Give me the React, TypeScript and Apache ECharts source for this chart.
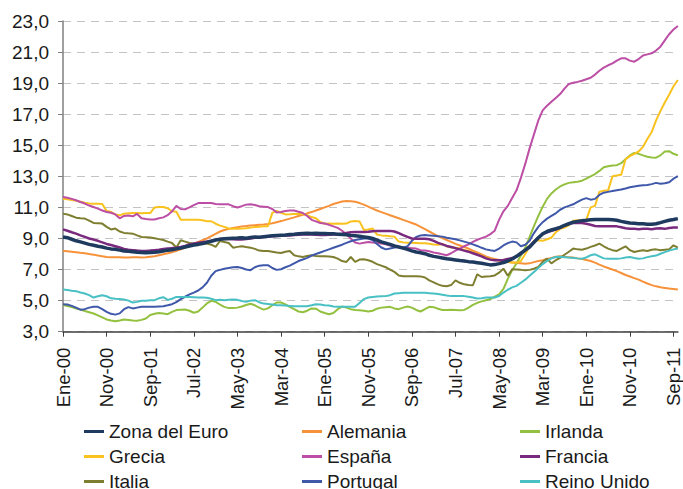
import React, { useEffect, useRef } from "react";
import * as echarts from "echarts";

const monthNames = ["Ene", "Feb", "Mar", "Abr", "May", "Jun", "Jul", "Ago", "Sep", "Oct", "Nov", "Dic"];
const categories: string[] = [];
for (let y = 0; y < 12; y++) {
  for (let m = 0; m < 12; m++) {
    if (categories.length < 142) categories.push(`${monthNames[m]}-${String(y).padStart(2, "0")}`);
  }
}

const yTicks = [3, 5, 7, 9, 11, 13, 15, 17, 19, 21, 23];

const zonaEuro = [
  9.10, 9.05, 8.95, 8.85, 8.78, 8.70, 8.62, 8.56, 8.50, 8.45,
  8.38, 8.33, 8.30, 8.25, 8.20, 8.18, 8.15, 8.12, 8.10, 8.08,
  8.10, 8.12, 8.15, 8.20, 8.25, 8.28, 8.33, 8.38, 8.45, 8.52,
  8.58, 8.62, 8.68, 8.75, 8.82, 8.90, 8.95, 8.98, 9.00, 9.02,
  9.03, 9.05, 9.02, 9.06, 9.10, 9.08, 9.12, 9.15, 9.18, 9.20,
  9.21, 9.22, 9.25, 9.27, 9.30, 9.32, 9.33, 9.32, 9.33, 9.32,
  9.32, 9.31, 9.30, 9.28, 9.26, 9.24, 9.20, 9.17, 9.14, 9.10,
  9.06, 9.00, 8.90, 8.78, 8.70, 8.62, 8.52, 8.45, 8.38, 8.30,
  8.20, 8.13, 8.08, 8.02, 7.92, 7.85, 7.80, 7.75, 7.70, 7.66,
  7.62, 7.58, 7.55, 7.51, 7.48, 7.44, 7.40, 7.35, 7.30, 7.32,
  7.38, 7.45, 7.55, 7.68, 7.85, 8.05, 8.25, 8.45, 8.75, 9.05,
  9.30, 9.45, 9.55, 9.63, 9.72, 9.85, 9.95, 10.05, 10.10, 10.15,
  10.17, 10.20, 10.22, 10.22, 10.23, 10.22, 10.20, 10.17, 10.10, 10.05,
  10.00, 9.98, 9.95, 9.95, 9.92, 9.92, 9.95, 10.02, 10.10, 10.17,
  10.22, 10.28,
];

const alemania = [
  8.20, 8.18, 8.15, 8.12, 8.08, 8.05, 8.00, 7.96, 7.90, 7.85,
  7.81, 7.80, 7.79, 7.79, 7.78, 7.78, 7.79, 7.79, 7.78, 7.80,
  7.83, 7.86, 7.92, 7.98, 8.05, 8.12, 8.20, 8.30, 8.41, 8.52,
  8.65, 8.78, 8.89, 9.00, 9.15, 9.30, 9.45, 9.55, 9.62, 9.68,
  9.72, 9.78, 9.80, 9.83, 9.86, 9.88, 9.90, 9.93, 9.98, 10.05,
  10.12, 10.20, 10.28, 10.36, 10.45, 10.52, 10.62, 10.70, 10.80, 10.90,
  11.00, 11.10, 11.22, 11.30, 11.38, 11.42, 11.40, 11.36, 11.28, 11.18,
  11.05, 10.92, 10.80, 10.70, 10.60, 10.50, 10.40, 10.30, 10.20, 10.10,
  10.00, 9.90, 9.75, 9.60, 9.45, 9.30, 9.15, 9.02, 8.90, 8.78,
  8.65, 8.55, 8.45, 8.35, 8.22, 8.10, 7.98, 7.85, 7.75, 7.68,
  7.62, 7.55, 7.50, 7.45, 7.42, 7.40, 7.38, 7.40, 7.48, 7.55,
  7.60, 7.68, 7.75, 7.82, 7.85, 7.82, 7.80, 7.78, 7.72, 7.68,
  7.62, 7.55, 7.45, 7.32, 7.20, 7.10, 7.00, 6.90, 6.78, 6.65,
  6.55, 6.45, 6.35, 6.22, 6.10, 6.00, 5.92, 5.86, 5.82, 5.78,
  5.75, 5.71,
];

const irlanda = [
  4.71, 4.65, 4.58, 4.49, 4.42, 4.33, 4.25, 4.17, 4.05, 3.92,
  3.79, 3.72, 3.68, 3.72, 3.78, 3.76, 3.72, 3.70, 3.76, 3.85,
  4.08, 4.15, 4.21, 4.17, 4.13, 4.28, 4.39, 4.42, 4.43, 4.35,
  4.22, 4.30, 4.55, 4.82, 4.99, 4.92, 4.75, 4.60, 4.52, 4.52,
  4.55, 4.62, 4.72, 4.80, 4.70, 4.55, 4.42, 4.50, 4.70, 4.88,
  4.88, 4.76, 4.60, 4.45, 4.30, 4.25, 4.35, 4.50, 4.48, 4.30,
  4.20, 4.12, 4.20, 4.45, 4.62, 4.55, 4.45, 4.40, 4.38, 4.35,
  4.30, 4.35, 4.48, 4.55, 4.58, 4.60, 4.50, 4.45, 4.55, 4.62,
  4.55, 4.40, 4.30, 4.45, 4.60, 4.58, 4.48, 4.40, 4.40, 4.42,
  4.40, 4.38, 4.40, 4.55, 4.72, 4.86, 4.95, 5.03, 5.10, 5.25,
  5.40, 5.75, 6.40, 6.95, 7.40, 7.90, 8.40, 9.10, 9.80, 10.45,
  11.05, 11.55, 11.90, 12.15, 12.35, 12.48, 12.58, 12.62, 12.65, 12.72,
  12.85, 13.00, 13.15, 13.35, 13.58, 13.65, 13.70, 13.72, 13.85, 14.10,
  14.35, 14.51, 14.45, 14.35, 14.26, 14.22, 14.20, 14.35, 14.60, 14.62,
  14.45, 14.36,
];

const grecia = [
  11.56, 11.52, 11.48, 11.42, 11.36, 11.30, 11.26, 11.24, 11.24, 11.22,
  10.77, 10.72, 10.55, 10.49, 10.60, 10.62, 10.64, 10.64, 10.62, 10.64,
  10.64, 11.00, 11.03, 11.03, 10.95, 10.75, 10.72, 10.21, 10.20, 10.21,
  10.21, 10.20, 10.17, 10.11, 10.11, 9.95, 9.83, 9.75, 9.64, 9.62,
  9.62, 9.64, 9.66, 9.70, 9.74, 9.76, 9.79, 9.79, 10.65, 10.77,
  10.65, 10.55, 10.56, 10.58, 10.60, 10.58, 10.50, 10.38, 10.30, 10.06,
  9.95, 9.96, 9.95, 9.96, 9.95, 9.96, 10.10, 10.12, 10.10, 9.55,
  9.58, 9.64, 9.25, 9.20, 9.18, 9.14, 9.12, 8.80, 8.75, 8.72,
  8.72, 8.71, 8.70, 8.70, 8.66, 8.62, 8.60, 8.65, 8.50, 8.44,
  8.40, 8.35, 8.26, 8.20, 8.10, 8.00, 7.88, 7.75, 7.68, 7.62,
  7.58, 7.52, 7.48, 7.45, 7.45, 7.55, 8.00, 8.50, 8.85, 8.88,
  8.85, 8.95, 9.05, 9.40, 9.62, 9.70, 9.85, 10.15, 10.17, 10.17,
  10.20, 11.00, 11.10, 12.00, 12.08, 12.10, 13.00, 13.05, 13.10, 14.10,
  14.30, 14.45, 14.60, 14.90, 15.40, 15.85, 16.60, 17.20, 17.75, 18.25,
  18.80, 19.20,
];

const espana = [
  11.67, 11.62, 11.55, 11.46, 11.35, 11.25, 11.12, 11.03, 10.92, 10.80,
  10.71, 10.66, 10.55, 10.30, 10.45, 10.48, 10.43, 10.58, 10.30, 10.25,
  10.22, 10.22, 10.30, 10.36, 10.50, 10.75, 11.10, 10.90, 10.88, 11.00,
  11.15, 11.28, 11.29, 11.29, 11.28, 11.22, 11.20, 11.20, 11.20, 11.08,
  11.00, 11.08, 11.18, 11.20, 11.15, 11.08, 11.05, 11.02, 10.90, 10.68,
  10.70, 10.77, 10.80, 10.80, 10.72, 10.64, 10.45, 10.20, 10.10, 10.00,
  9.96, 9.88, 9.78, 9.68, 9.50, 9.25, 9.00, 8.74, 8.67, 8.72,
  8.78, 8.74, 8.71, 8.68, 8.62, 8.55, 8.50, 8.46, 8.43, 8.41,
  8.38, 8.35, 8.25, 8.22, 8.18, 8.10, 8.05, 7.98, 7.92, 8.05,
  8.22, 8.35, 8.50, 8.62, 8.78, 8.92, 9.02, 9.12, 9.28, 9.50,
  10.20, 10.75, 11.10, 11.60, 12.10, 12.90, 13.80, 14.80, 15.70, 16.60,
  17.25, 17.55, 17.80, 18.05, 18.30, 18.65, 18.95, 19.02, 19.08, 19.15,
  19.25, 19.35, 19.55, 19.80, 20.00, 20.15, 20.27, 20.45, 20.60, 20.60,
  20.45, 20.38, 20.55, 20.78, 20.85, 20.92, 21.10, 21.35, 21.75, 22.15,
  22.45, 22.68,
];

const francia = [
  9.59, 9.50, 9.40, 9.31, 9.20, 9.10, 9.00, 8.93, 8.85, 8.75,
  8.65, 8.58, 8.50, 8.42, 8.33, 8.28, 8.25, 8.22, 8.20, 8.20,
  8.22, 8.25, 8.28, 8.32, 8.35, 8.38, 8.40, 8.45, 8.52, 8.62,
  8.68, 8.72, 8.76, 8.80, 8.85, 8.92, 8.97, 8.98, 8.97, 8.95,
  8.94, 8.93, 8.96, 9.00, 9.04, 9.07, 9.10, 9.12, 9.14, 9.16,
  9.18, 9.19, 9.20, 9.22, 9.24, 9.26, 9.27, 9.25, 9.24, 9.23,
  9.23, 9.24, 9.25, 9.27, 9.30, 9.35, 9.40, 9.42, 9.42, 9.42,
  9.43, 9.47, 9.49, 9.49, 9.49, 9.49, 9.45, 9.35, 9.22, 9.10,
  9.00, 8.98, 8.98, 8.99, 8.95, 8.85, 8.72, 8.62, 8.52, 8.45,
  8.38, 8.30, 8.22, 8.15, 8.05, 7.95, 7.85, 7.72, 7.64, 7.60,
  7.60, 7.62, 7.68, 7.74, 7.85, 8.00, 8.25, 8.50, 8.80, 9.05,
  9.28, 9.40, 9.50, 9.57, 9.68, 9.82, 9.95, 10.00, 10.00, 10.00,
  9.95, 9.88, 9.80, 9.79, 9.78, 9.79, 9.79, 9.78, 9.72, 9.66,
  9.62, 9.62, 9.60, 9.62, 9.62, 9.60, 9.64, 9.66, 9.62, 9.68,
  9.70, 9.70,
];

const italia = [
  10.60, 10.55, 10.45, 10.34, 10.30, 10.28, 10.15, 10.00, 9.98, 9.96,
  9.75, 9.58, 9.64, 9.45, 9.36, 9.33, 9.31, 9.20, 9.10, 9.08,
  9.06, 9.02, 8.96, 8.90, 8.80, 8.71, 8.42, 8.89, 8.80, 8.71,
  8.66, 8.63, 8.65, 8.67, 8.60, 8.46, 8.84, 8.78, 8.71, 8.41,
  8.46, 8.50, 8.45, 8.41, 8.33, 8.22, 8.20, 8.20, 8.15, 8.10,
  8.07, 8.15, 8.20, 7.92, 7.85, 7.81, 7.88, 7.92, 7.88, 7.86,
  7.86, 7.84, 7.81, 7.70, 7.55, 7.49, 7.81, 7.49, 7.64, 7.66,
  7.60, 7.50, 7.35, 7.25, 7.15, 7.00, 6.85, 6.62, 6.57, 6.57,
  6.57, 6.57, 6.56, 6.49, 6.30, 6.18, 6.05, 5.95, 5.93, 6.00,
  6.30, 6.15, 6.05, 6.00, 5.99, 6.70, 6.52, 6.55, 6.57, 6.62,
  6.80, 7.06, 6.60, 7.02, 7.00, 6.98, 6.95, 6.98, 7.05, 7.17,
  7.50, 7.70, 7.40, 7.60, 7.75, 7.95, 8.15, 8.35, 8.30, 8.28,
  8.35, 8.46, 8.55, 8.67, 8.50, 8.35, 8.25, 8.20, 8.35, 8.50,
  8.25, 8.13, 8.20, 8.24, 8.20, 8.28, 8.30, 8.25, 8.28, 8.30,
  8.56, 8.41,
];

const portugal = [
  4.77, 4.75, 4.66, 4.55, 4.42, 4.45, 4.55, 4.60, 4.60, 4.45,
  4.28, 4.15, 4.10, 4.18, 4.45, 4.58, 4.50, 4.55, 4.60, 4.60,
  4.60, 4.60, 4.62, 4.64, 4.70, 4.77, 4.90, 5.10, 5.25, 5.40,
  5.52, 5.65, 5.85, 6.15, 6.60, 6.90, 6.98, 7.05, 7.10, 7.15,
  7.17, 7.10, 7.00, 6.96, 7.15, 7.25, 7.28, 7.28, 7.10, 6.98,
  7.02, 7.15, 7.25, 7.40, 7.55, 7.65, 7.75, 7.90, 8.00, 8.10,
  8.20, 8.30, 8.40, 8.50, 8.60, 8.72, 8.82, 8.90, 8.95, 9.00,
  9.00, 8.90, 8.65, 8.42, 8.30, 8.35, 8.42, 8.46, 8.40, 8.50,
  8.85, 9.10, 9.20, 9.22, 9.20, 9.18, 9.15, 9.12, 9.05, 9.00,
  8.95, 8.88, 8.80, 8.72, 8.62, 8.52, 8.40, 8.30, 8.24, 8.20,
  8.35, 8.55, 8.70, 8.80, 8.75, 8.50, 8.60, 8.85, 9.35, 9.75,
  10.05, 10.28, 10.45, 10.62, 10.85, 11.00, 11.10, 11.20, 11.35, 11.50,
  11.60, 11.50, 11.55, 11.80, 11.95, 12.00, 12.05, 12.10, 12.15, 12.22,
  12.30, 12.35, 12.40, 12.43, 12.45, 12.50, 12.58, 12.52, 12.56, 12.62,
  12.85, 13.01,
];

const reinoUnido = [
  5.71, 5.68, 5.64, 5.61, 5.52, 5.46, 5.35, 5.20, 5.28, 5.35,
  5.28, 5.15, 5.12, 5.10, 5.07, 5.00, 4.88, 4.92, 4.99, 5.00,
  5.02, 5.03, 5.15, 5.22, 5.05, 5.12, 5.24, 5.24, 5.24, 5.24,
  5.22, 5.20, 5.20, 5.18, 5.12, 5.03, 5.05, 5.03, 5.05, 5.07,
  5.05, 4.98, 4.92, 5.00, 5.03, 4.90, 4.81, 4.78, 4.75, 4.71,
  4.70, 4.68, 4.66, 4.64, 4.64, 4.64, 4.64, 4.70, 4.77, 4.75,
  4.71, 4.68, 4.62, 4.60, 4.60, 4.60, 4.60, 4.60, 4.85, 5.10,
  5.20, 5.24, 5.26, 5.28, 5.29, 5.35, 5.46, 5.48, 5.50, 5.50,
  5.50, 5.50, 5.50, 5.50, 5.48, 5.46, 5.42, 5.38, 5.33, 5.29,
  5.29, 5.29, 5.29, 5.25, 5.20, 5.14, 5.16, 5.20, 5.20, 5.20,
  5.30, 5.52, 5.70, 5.85, 5.95, 6.15, 6.35, 6.60, 6.85, 7.10,
  7.35, 7.55, 7.72, 7.81, 7.82, 7.80, 7.77, 7.75, 7.72, 7.70,
  7.78, 7.92, 7.98, 7.85, 7.72, 7.70, 7.70, 7.70, 7.72, 7.78,
  7.81, 7.75, 7.70, 7.72, 7.80, 7.85, 7.90, 8.02, 8.12, 8.22,
  8.30, 8.35,
];

const seriesDefs = [
  { name: "Zona del Euro", data: zonaEuro, color: "#1F3A5F", width: 3.5, z: 10 },
  { name: "Alemania", data: alemania, color: "#F7923A", width: 2, z: 2 },
  { name: "Irlanda", data: irlanda, color: "#93C13F", width: 2, z: 2 },
  { name: "Grecia", data: grecia, color: "#F9C21E", width: 2, z: 2 },
  { name: "España", data: espana, color: "#BC4FA5", width: 2, z: 2 },
  { name: "Francia", data: francia, color: "#7A2A7E", width: 2.5, z: 3 },
  { name: "Italia", data: italia, color: "#7E7E30", width: 2, z: 2 },
  { name: "Portugal", data: portugal, color: "#3F58AA", width: 2, z: 2 },
  { name: "Reino Unido", data: reinoUnido, color: "#48C0C4", width: 2, z: 2 },
];

const legendColumns = [
  ["Zona del Euro", "Grecia", "Italia"],
  ["Alemania", "España", "Portugal"],
  ["Irlanda", "Francia", "Reino Unido"],
];
const legendLeft = [84, 302, 520];

const FONT = "'Liberation Sans', Arial, sans-serif";

export default function App() {
  const ref = useRef<HTMLDivElement>(null);
  useEffect(() => {
    if (!ref.current) return;
    const chart = echarts.init(ref.current, undefined, { renderer: "svg" });
    chart.setOption({
      animation: false,
      backgroundColor: "#ffffff",
      textStyle: { fontFamily: FONT },
      grid: { left: 63, right: 1.3, top: 21, bottom: 157.3, containLabel: false },
      legend: legendColumns.map((col, k) => ({
        orient: "vertical",
        left: legendLeft[k],
        top: 422,
        width: 200,
        height: 90,
        padding: 0,
        icon: "rect",
        itemWidth: 20,
        itemHeight: 3,
        itemGap: 6,
        selectedMode: false,
        textStyle: { fontSize: 19, lineHeight: 18, color: "#1a1a1a", fontFamily: FONT },
        data: col,
      })),
      xAxis: {
        type: "category",
        data: categories,
        boundaryGap: false,
        axisLine: { lineStyle: { color: "#404040", width: 1.5 } },
        axisTick: { show: true, interval: 9, length: 5, lineStyle: { color: "#404040" } },
        axisLabel: {
          interval: 9,
          rotate: 90,
          margin: 16,
          fontSize: 18.5,
          color: "#1a1a1a",
          fontFamily: FONT,
        },
        splitLine: { show: false },
      },
      yAxis: {
        type: "value",
        min: yTicks[0],
        max: yTicks[yTicks.length - 1],
        interval: 2,
        axisLine: { show: true, lineStyle: { color: "#808080", width: 1.5 } },
        axisTick: { show: true, length: 5, lineStyle: { color: "#808080" } },
        axisLabel: {
          margin: 14,
          fontSize: 19,
          color: "#1a1a1a",
          fontFamily: FONT,
          formatter: (v: number) => v.toFixed(1).replace(".", ","),
        },
        splitLine: { show: true, lineStyle: { color: "#C4C4C4", type: [8, 6], width: 1 } },
      },
      series: seriesDefs.map((s) => ({
        name: s.name,
        type: "line",
        data: s.data,
        showSymbol: false,
        symbol: "none",
        z: s.z,
        color: s.color,
        lineStyle: { color: s.color, width: s.width },
        emphasis: { disabled: true },
      })),
    });
    return () => chart.dispose();
  }, []);
  return (
    <div
      ref={ref}
      style={{ position: "fixed", left: 0, top: 0, width: 683, height: 489, background: "#fff" }}
    />
  );
}
